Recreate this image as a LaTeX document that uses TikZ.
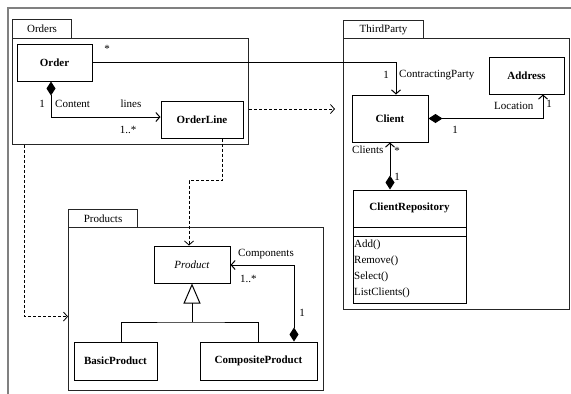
\documentclass[tikz,border=0pt]{standalone}
\usepackage{fontspec}
\setmainfont{Liberation Serif}
\usetikzlibrary{arrows.meta}
\begin{document}
\begin{tikzpicture}[x=1pt,y=-1pt, font=\fontsize{11}{13}\selectfont,
 cls/.style={draw, line width=1pt, font=\fontsize{11}{13}\selectfont\bfseries, inner sep=0pt},
 pkg/.style={draw=black!85, line width=1.1pt, anchor=north west, inner sep=0pt},
 dep/.style={line width=0.8pt, dash pattern=on 3pt off 2pt, -{Straight Barb[length=4pt,width=9pt]}},
 assoc/.style={line width=1pt, -{Straight Barb[length=4pt,width=9pt]}},
 comp/.style={line width=1pt, {Diamond[length=14pt,width=9pt]}-{Straight Barb[length=4pt,width=9pt]}},
 gen/.style={line width=1pt, -{Triangle[open, length=20pt, width=17pt]}},
 lbl/.style={inner sep=0pt, font=\fontsize{11}{13}\selectfont}]
\useasboundingbox (0,0) rectangle (571,394);
\draw[gray, line width=2pt] (571,8) -- (8,8) -- (8,394);

% packages
\node[pkg, minimum width=59pt, minimum height=19pt] (ordersTab) at (12,19) {Orders};
\node[pkg, minimum width=236pt, minimum height=106pt] (orders) at (12,38) {};
\node[pkg, minimum width=80pt, minimum height=18pt] (thirdTab) at (343,20) {ThirdParty};
\node[pkg, minimum width=226pt, minimum height=271pt] (third) at (343,38) {};
\node[pkg, minimum width=69pt, minimum height=18pt] (productsTab) at (68,209) {Products};
\node[pkg, minimum width=255pt, minimum height=163pt] (products) at (68,227) {};

% classes
\node[cls, minimum width=75pt, minimum height=37pt] (order) at (54.5,62.5) {Order};
\node[cls, minimum width=82pt, minimum height=37pt] (orderline) at (202,119.5) {OrderLine};
\node[cls, minimum width=76pt, minimum height=47pt] (client) at (390,118.5) {Client};
\node[cls, minimum width=75pt, minimum height=37pt] (address) at (526.5,75.5) {Address};
\node[cls, minimum width=113pt, minimum height=113pt] (repo) at (409.5,246.5) {};
\node[lbl, font=\fontsize{11}{13}\selectfont\bfseries] (repoName) at (409.5,208) {ClientRepository};
\coordinate (sepA) at (353,227);
\coordinate (sepB) at (353,236);
\draw[line width=1pt] (sepA) -- (sepA -| repo.east);
\draw[line width=1pt] (sepB) -- (sepB -| repo.east);
\node[lbl, anchor=west] (opAdd) at (354,245) {Add()};
\node[lbl, anchor=west] (opRemove) at (354,261) {Remove()};
\node[lbl, anchor=west] (opSelect) at (354,277) {Select()};
\node[lbl, anchor=west] (opList) at (354,293) {ListClients()};

\node[cls, minimum width=76pt, minimum height=37pt, font=\fontsize{11}{13}\selectfont\itshape] (product) at (192,264.5) {Product};
\node[cls, minimum width=83pt, minimum height=38pt] (basic) at (115.5,361) {BasicProduct};
\node[cls, minimum width=117pt, minimum height=38pt] (composite) at (258.5,361) {CompositeProduct};

% connectors
\draw[assoc] (order.east) -| ([xshift=6pt]client.north);
\draw[comp] ([xshift=-3.5pt]order.south) |- ([yshift=2.5pt]orderline.west);
\draw[comp] (client.east) -| ([xshift=16.5pt]address.south);
\draw[comp] (client.south |- repo.north) -- (client.south);
\draw[comp] ([xshift=35.5pt]composite.north) |- ([yshift=-0.5pt]product.east);
\coordinate (gjoin) at (192,322);
\draw[line width=1pt] ([xshift=5.5pt]basic.north) |- (gjoin) -| (composite.north);
\draw[gen] (gjoin) -- (product.south);

\coordinate (dep1end) at (335,109);
\draw[dep] (orders.east |- dep1end) -- (dep1end);
\draw[dep] ([xshift=20pt]orderline.south) -- ++(0,42) -| ([xshift=-3pt]product.north);
\draw[dep] ([xshift=-106pt]orders.south) |- ([yshift=-7.5pt]products.west);

% labels
\node[lbl] (l1) at (107,49) {*};
\node[lbl] (l2) at (42,104) {1};
\node[lbl, anchor=west] (l3) at (55,104) {Content};
\node[lbl] (l4) at (131,104) {lines};
\node[lbl] (l5) at (128,130) {1..*};
\node[lbl] (l6) at (386,75) {1};
\node[lbl, anchor=west] (l7) at (399,75) {ContractingParty};
\node[lbl, anchor=west] (l8) at (494,106) {Location};
\node[lbl] (l9) at (549,104) {1};
\node[lbl] (l10) at (455,130) {1};
\node[lbl, anchor=west] (l11) at (352,150) {Clients};
\node[lbl] (l12) at (397,151) {*};
\node[lbl] (l13) at (397,177) {1};
\node[lbl, anchor=west] (l14) at (238,254) {Components};
\node[lbl, anchor=west] (l15) at (240,279) {1..*};
\node[lbl] (l16) at (302,313) {1};
\end{tikzpicture}
\end{document}
